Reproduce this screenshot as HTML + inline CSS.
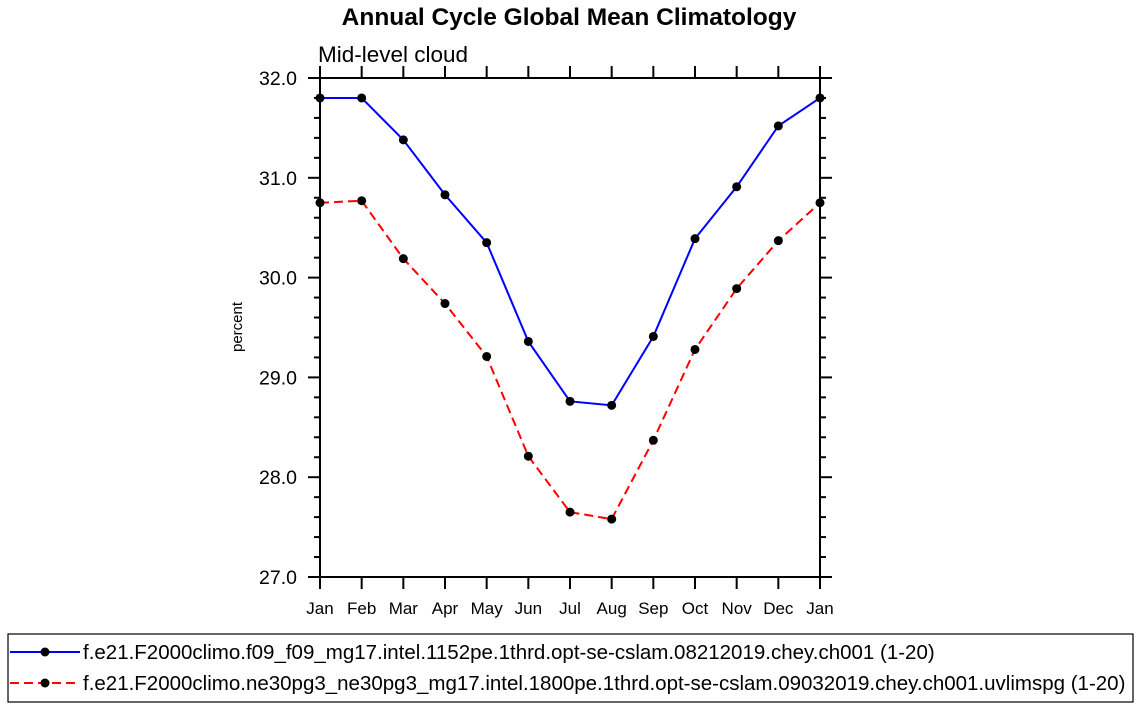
<!DOCTYPE html>
<html><head><meta charset="utf-8"><style>
body{margin:0;background:#fff;}
svg{display:block;font-family:"Liberation Sans",Arial,sans-serif;}
</style></head><body>
<svg id="chart" width="1138" height="707" viewBox="0 0 1138 707" xmlns="http://www.w3.org/2000/svg">
<text x="569" y="25" text-anchor="middle" font-size="24.5" font-weight="bold">Annual Cycle Global Mean Climatology</text>
<text x="318" y="62" font-size="22.5">Mid-level cloud</text>
<text transform="translate(242,327) rotate(-90)" text-anchor="middle" font-size="15">percent</text>
<g id="axes"></g>
<g id="series"></g>
<rect x="8" y="634" width="1125" height="68" fill="none" stroke="#000" stroke-width="1.2"/>
<g id="legend"></g>
</svg>
<script>
const months=["Jan","Feb","Mar","Apr","May","Jun","Jul","Aug","Sep","Oct","Nov","Dec","Jan"];
const yTicks=[27,28,29,30,31,32];
const blueValues=[31.80,31.80,31.38,30.83,30.35,29.36,28.76,28.72,29.41,30.39,30.91,31.52,31.80];
const redValues=[30.75,30.77,30.19,29.74,29.21,28.21,27.65,27.58,28.37,29.28,29.89,30.37,30.75];
const seriesLabels=["f.e21.F2000climo.f09_f09_mg17.intel.1152pe.1thrd.opt-se-cslam.08212019.chey.ch001 (1-20)","f.e21.F2000climo.ne30pg3_ne30pg3_mg17.intel.1800pe.1thrd.opt-se-cslam.09032019.chey.ch001.uvlimspg (1-20)"];
const NS="http://www.w3.org/2000/svg";
const L=320,R=820,T=78,B=577,yMin=27,yMax=32;
const X=i=>L+(R-L)*i/(months.length-1);
const Y=v=>B-(B-T)*(v-yMin)/(yMax-yMin);
function mk(tag,attrs,parent){const e=document.createElementNS(NS,tag);for(const k in attrs)e.setAttribute(k,attrs[k]);parent.appendChild(e);return e;}
const ax=document.getElementById('axes');
const frame=mk('rect',{x:L,y:T,width:R-L,height:B-T,fill:'none',stroke:'#000','stroke-width':2},ax);


for(let v=yMin;v<=yMax+1e-9;v+=0.2){
  const major=Math.abs(v-Math.round(v))<1e-6;const len=major?12:6;const y=Y(v);
  mk('line',{x1:L-len,x2:L,y1:y,y2:y,stroke:'#000','stroke-width':2},ax);
  mk('line',{x1:R,x2:R+len,y1:y,y2:y,stroke:'#000','stroke-width':2},ax);
}
yTicks.forEach(v=>{
  const t=mk('text',{x:L-23,y:Y(v)+7,'text-anchor':'end','font-size':19.5},ax);
  t.textContent=v.toFixed(1);
  
  
});
months.forEach((m,i)=>{
  const x=X(i);
  mk('line',{x1:x,x2:x,y1:B,y2:B+12,stroke:'#000','stroke-width':2},ax);
  mk('line',{x1:x,x2:x,y1:T-12,y2:T,stroke:'#000','stroke-width':2},ax);
  const t=mk('text',{x:x,y:B+37,'text-anchor':'middle','font-size':17},ax);
  t.textContent=m;
  
  
});
const sg=document.getElementById('series');
function drawSeries(vals,color,dash,name){
  const g=mk('g',{},sg);
  
  
  const pts=vals.map((v,i)=>X(i)+','+Y(v)).join(' ');
  const a={points:pts,fill:'none',stroke:color,'stroke-width':2};
  if(dash)a['stroke-dasharray']=dash;
  mk('polyline',a,g);
  vals.forEach((v,i)=>{const c=mk('circle',{cx:X(i),cy:Y(v),r:4.5,fill:'#000'},g);
    
    });
}
drawSeries(redValues,'#f00','9,5','series-red');
drawSeries(blueValues,'#00f',null,'series-blue');
const lg=document.getElementById('legend');
[['#00f',null,652],['#f00','9,5',683]].forEach((s,i)=>{
  const g=mk('g',{},lg);
  
  
  const a={x1:10,x2:80,y1:s[2],y2:s[2],stroke:s[0],'stroke-width':2};
  if(s[1])a['stroke-dasharray']=s[1];
  mk('line',a,g);
  mk('circle',{cx:45,cy:s[2],r:4.5,fill:'#000'},g);
  const t=mk('text',{x:83,y:s[2]+7,'font-size':20.5},g);
  t.textContent=seriesLabels[i];
});
</script>
</body></html>
